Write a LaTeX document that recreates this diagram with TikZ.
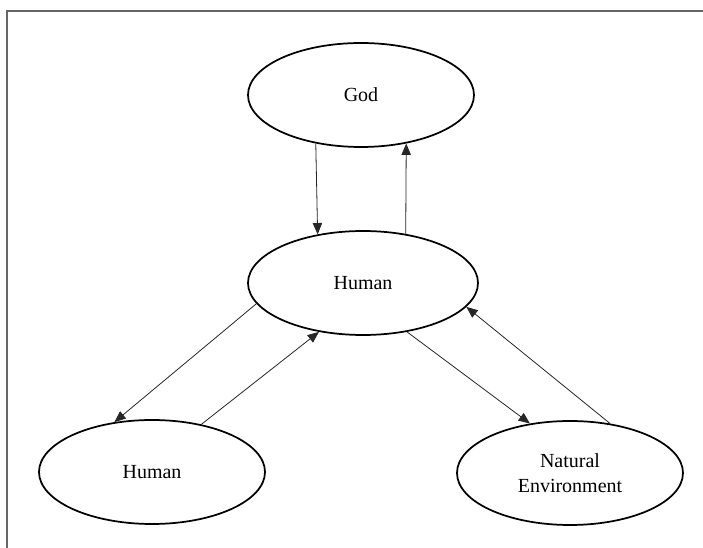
\documentclass[tikz,border=0pt]{standalone}
\usepackage{fontspec}
\setmainfont{Liberation Serif}
\usetikzlibrary{shapes.geometric, arrows.meta}

\begin{document}
\begin{tikzpicture}[x=0.75pt, y=-0.75pt,
	being/.style={ellipse, draw, line width=1.3pt, minimum width=169.5pt, minimum height=78pt,
		inner sep=0pt, align=center, font=\fontsize{15}{19}\selectfont},
	link/.style={line width=0.6pt, draw=black!85, -{Triangle[length=8.5pt, width=7pt]}}]
	\useasboundingbox (0, 0) rectangle (703, 548);
	\draw[line width=1.1pt, black!60] (703, 11) -- (7, 11) -- (7, 548);

	\node[being] (god) at (361, 95) {God};
	\node[being, minimum width=172.5pt] (human) at (363, 283) {Human};
	\node[being] (other) at (152, 472) {Human};
	\node[being] (nature) at (570, 473) {Natural\\Environment};

	\draw[link] (god.227.5) -- (human.133.6);
	\draw[link] (human.49.6) -- (god.313.2);

	\draw[link] (human.191.5) -- (other.127.4);
	\draw[link] (other.44.4) -- (human.228);

	\draw[link] (human.312.6) -- (nature.129.5);
	\draw[link] (nature.51.3) -- (human.347.6);
\end{tikzpicture}
\end{document}
